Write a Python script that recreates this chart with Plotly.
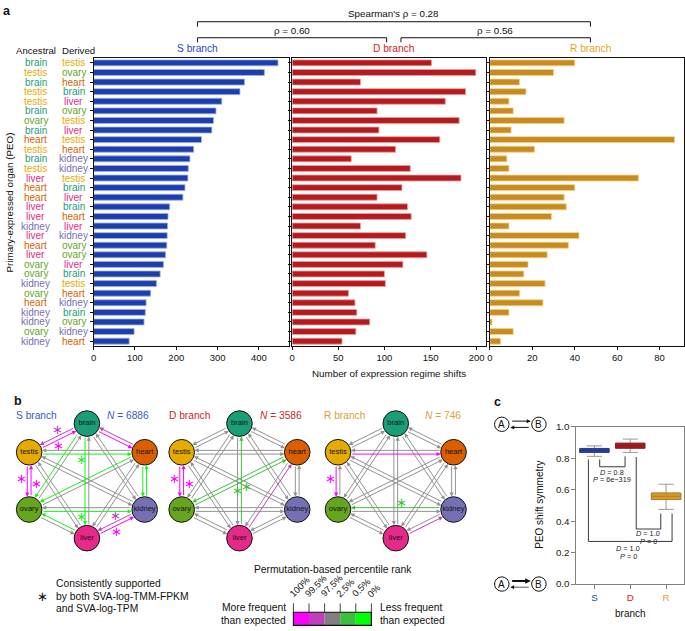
import math
import plotly.graph_objects as go

W, H = 685, 631
FONT = "Liberation Sans, Arial, Helvetica, sans-serif"


def px(x):
    return x / W


def py(y):
    return 1 - y / H


# ---------------- data: panel a ----------------
ancestral = ["brain", "testis", "brain", "testis", "testis", "brain", "ovary", "brain",
             "heart", "testis", "brain", "testis", "liver", "heart", "heart", "liver",
             "liver", "kidney", "liver", "heart", "liver", "ovary", "ovary", "kidney",
             "ovary", "heart", "kidney", "kidney", "ovary", "kidney"]
derived = ["testis", "ovary", "heart", "brain", "liver", "ovary", "testis", "liver",
           "testis", "heart", "kidney", "kidney", "testis", "brain", "liver", "brain",
           "heart", "liver", "kidney", "ovary", "ovary", "liver", "brain", "testis",
           "heart", "kidney", "brain", "ovary", "kidney", "heart"]
s_shifts = [446, 413, 365, 354, 310, 296, 290, 286, 261, 242, 233, 229, 228, 221, 216,
            184, 180, 179, 178, 177, 174, 169, 161, 152, 138, 127, 125, 122, 98, 86]
d_shifts = [151, 199, 74, 188, 166, 92, 181, 94, 160, 112, 64, 128, 183, 119, 92,
            125, 129, 74, 123, 90, 146, 120, 100, 101, 61, 68, 70, 84, 69, 54]
r_shifts = [40, 30, 14, 17, 9, 11, 35, 10, 87, 21, 8, 9, 70, 40, 35,
            36, 29, 9, 42, 37, 27, 18, 16, 26, 14, 25, 9, 1, 11, 5]
s_ticks = [0, 100, 200, 300, 400]
d_ticks = [0, 50, 100, 150, 200]
r_ticks = [0, 20, 40, 60, 80]
spearman_labels = ["Spearman's ρ = 0.28", "ρ = 0.60", "ρ = 0.56"]

organ_colors = {"brain": "#1b9e77", "heart": "#d95f02", "kidney": "#7570b3",
                "liver": "#e7298a", "ovary": "#66a61e", "testis": "#e6ab02"}
organs = ["brain", "heart", "kidney", "liver", "ovary", "testis"]
node_angle = {"brain": 90, "heart": 30, "kidney": -30, "liver": -90, "ovary": -150, "testis": 150}

# ---------------- data: panel b ----------------
branch_names = ["S branch", "D branch", "R branch"]
branch_N = [6886, 3586, 746]
branch_colors = ["#2447c8", "#c41e24", "#dea02c"]
# (ancestral, derived, rank class, consistently supported)
# rank class: 0 grey, 1 >99.5%, 2 97.5-99.5%, 3 0.5-2.5%, 4 <0.5%
s_special = [("testis", "brain", 1, True), ("brain", "testis", 2, True),
             ("brain", "heart", 1, False), ("heart", "brain", 2, False),
             ("testis", "heart", 4, True), ("testis", "ovary", 1, True),
             ("ovary", "testis", 1, True), ("brain", "ovary", 4, False),
             ("heart", "ovary", 4, False), ("brain", "liver", 4, False),
             ("ovary", "kidney", 4, True), ("heart", "kidney", 4, False),
             ("kidney", "heart", 4, False), ("liver", "ovary", 4, False),
             ("liver", "kidney", 1, True), ("kidney", "liver", 2, True)]
d_special = [("testis", "ovary", 1, True), ("ovary", "testis", 1, True),
             ("liver", "brain", 3, True), ("ovary", "heart", 3, True),
             ("heart", "ovary", 3, False), ("liver", "heart", 2, False)]
r_special = [("testis", "heart", 1, False), ("testis", "ovary", 1, True),
             ("kidney", "ovary", 3, True), ("liver", "kidney", 2, False)]
branch_special = [s_special, d_special, r_special]
rank_labels = ["100%", "99.5%", "97.5%", "2.5%", "0.5%", "0%"]
rank_colors = ["#ff00ff", "#bf3fbf", "#808080", "#3cbf3c", "#00ff00"]
edge_colors = ["#939393", "#ff00ff", "#c040c0", "#40c040", "#1cf01c"]

# ---------------- data: panel c ----------------
c_branches = ["S", "D", "R"]
c_colors = ["#2447c8", "#d7191c", "#f0a020"]
c_fill = ["#2a45a0", "#a81e24", "#d49a2a"]
c_edge = ["#1c3488", "#8e1418", "#b07818"]
box_q1 = [0.8375, 0.864, 0.5375]
box_med = [0.850, 0.880, 0.558]
box_q3 = [0.8625, 0.896, 0.579]
box_lo = [0.8125, 0.8375, 0.475]
box_hi = [0.879, 0.922, 0.635]
c_tests = [("0.8", "6e−319"), ("1.0", "0"), ("1.0", "0")]

fig = go.Figure()
annos = []
shapes = []


def txt(x, y, s, size=10, color="#111", xanchor="center", yanchor="middle", angle=0, **kw):
    d = dict(x=px(x), y=py(y), xref="paper", yref="paper", text=s, showarrow=False,
             font=dict(size=size, color=color, family=FONT), xanchor=xanchor,
             yanchor=yanchor, textangle=angle, borderpad=0)
    d.update(kw)
    annos.append(d)


# ---------------- panel a bars ----------------
rows = list(range(1, len(ancestral) + 1))
bar_specs = [(s_shifts, "x", "y", "#1d3fae", "#9fb0e6"),
             (d_shifts, "x2", "y2", "#b41b1e", "#e8a0a0"),
             (r_shifts, "x3", "y3", "#c98b1f", "#f2cf85")]
for vals, xa, ya, fill, edge in bar_specs:
    fig.add_trace(go.Bar(x=vals, y=rows, orientation="h", xaxis=xa, yaxis=ya,
                         marker=dict(color=fill, line=dict(color=edge, width=0.8)),
                         width=0.62, showlegend=False, hoverinfo="skip"))

frame = dict(showline=True, mirror=True, linecolor="#111", linewidth=1, showgrid=False,
             zeroline=False, ticks="outside", ticklen=3, tickcolor="#111", fixedrange=True,
             tickfont=dict(size=9.5, color="#111", family=FONT))
ydom = [py(346), py(53)]
layout_axes = dict(
    xaxis=dict(domain=[px(91), px(287)], range=[0, 472], tickvals=s_ticks, anchor="y", **frame),
    yaxis=dict(domain=ydom, range=[30.5, 0.5], tickvals=rows, showticklabels=False, anchor="x", **frame),
    xaxis2=dict(domain=[px(290.5), px(485)], range=[0, 210], tickvals=d_ticks, anchor="y2", **frame),
    yaxis2=dict(domain=ydom, range=[30.5, 0.5], tickvals=rows, showticklabels=False, anchor="x2", **frame),
    xaxis3=dict(domain=[px(489), px(684)], range=[0, 91.5], tickvals=r_ticks, anchor="y3", **frame),
    yaxis3=dict(domain=ydom, range=[30.5, 0.5], tickvals=rows, showticklabels=False, anchor="x3", **frame),
)

# organ labels
for r, a, d in zip(rows, ancestral, derived):
    for xc, org in ((33, a), (71, d)):
        annos.append(dict(x=px(xc), y=r, xref="paper", yref="y", text=org, showarrow=False,
                          font=dict(size=10, color=organ_colors[org], family=FONT),
                          xanchor="center", yanchor="middle", borderpad=0))
txt(33, 45, "Ancestral", 9.6)
txt(76, 45, "Derived", 9.6)
txt(7, 200, "Primary-expressed organ (PEO)", 9.8, angle=-90)
txt(388, 374, "Number of expression regime shifts", 9.8)
txt(195, 43.5, branch_names[0], 10.2, branch_colors[0])
txt(392, 43.5, branch_names[1], 10.2, "#d42024")
txt(590, 43.5, branch_names[2], 10.2, "#eaa21e")
txt(4, 5, "<b>a</b>", 12.5)


# spearman brackets
def bracket(x0, x1, yline, ydrop):
    for seg in ((x0, yline, x1, yline), (x0, yline, x0, ydrop), (x1, yline, x1, ydrop)):
        shapes.append(dict(type="line", xref="paper", yref="paper", x0=px(seg[0]), y0=py(seg[1]),
                           x1=px(seg[2]), y1=py(seg[3]), line=dict(color="#111", width=1)))


bracket(195.3, 590, 16, 21)
bracket(195.3, 385.3, 32.3, 37)
bracket(399.7, 590, 32.3, 37)
txt(392, 8, spearman_labels[0], 9.8)
txt(290, 25, spearman_labels[1], 9.8)
txt(494, 25, spearman_labels[2], 9.8)

# ---------------- panel b networks ----------------
layout_axes["xaxis5"] = dict(domain=[0, px(490)], range=[0, 490], visible=False, fixedrange=True, anchor="y5")
layout_axes["yaxis5"] = dict(domain=[py(565), py(395)], range=[565, 395], visible=False, fixedrange=True, anchor="x5")
net_cx = [84.3, 237.5, 394.5]
net_cy = 483.3
RX, RY = 67.0, 58.3
NODE_R = 12.8

for bi, cx in enumerate(net_cx):
    pos = {o: (cx + RX * math.cos(math.radians(node_angle[o])),
               net_cy - RY * math.sin(math.radians(node_angle[o]))) for o in organs}
    special = {(a, b): (c, s) for a, b, c, s in branch_special[bi]}
    edges = []
    for a in organs:
        for b in organs:
            if a != b:
                c, s = special.get((a, b), (0, False))
                edges.append((a, b, c, s))
    edges.sort(key=lambda e: e[2] != 0)
    for a, b, c, s in edges:
        (x0, y0), (x1, y1) = pos[a], pos[b]
        L = math.hypot(x1 - x0, y1 - y0)
        ux, uy = (x1 - x0) / L, (y1 - y0) / L
        nx, ny = -uy, ux
        off = 1.9
        annos.append(dict(x=x1 + nx * off, y=y1 + ny * off, ax=x0 + nx * off, ay=y0 + ny * off,
                          xref="x5", yref="y5", axref="x5", ayref="y5", text="", showarrow=True,
                          arrowhead=2, arrowsize=0.85, arrowwidth=1, arrowcolor=edge_colors[c],
                          standoff=NODE_R, startstandoff=NODE_R))
        if s:
            mx, my = x0 + (x1 - x0) * 0.45, y0 + (y1 - y0) * 0.45
            annos.append(dict(x=mx + nx * 7.5, y=my + ny * 7.5, xref="x5", yref="y5", text="∗",
                              showarrow=False, font=dict(size=13, color=edge_colors[c], family=FONT),
                              xanchor="center", yanchor="middle", borderpad=0))
    fig.add_trace(go.Scatter(x=[pos[o][0] for o in organs], y=[pos[o][1] for o in organs],
                             xaxis="x5", yaxis="y5", mode="markers+text", text=organs,
                             textfont=dict(size=7.6, color="#111", family=FONT),
                             marker=dict(size=2 * NODE_R, color=[organ_colors[o] for o in organs],
                                         line=dict(color="#111", width=1)),
                             showlegend=False, hoverinfo="skip"))

txt(15, 402, "<b>b</b>", 12.5)
txt(12, 417, branch_names[0], 10.2, "#3a58cc", xanchor="left")
txt(103, 417, f"<i>N</i> = {branch_N[0]}", 10.2, "#3a58cc", xanchor="left")
txt(166, 417, branch_names[1], 10.2, "#c4282c", xanchor="left")
txt(257, 417, f"<i>N</i> = {branch_N[1]}", 10.2, "#c4282c", xanchor="left")
txt(321, 417, branch_names[2], 10.2, "#d9a234", xanchor="left")
txt(423, 417, f"<i>N</i> = {branch_N[2]}", 10.2, "#d9a234", xanchor="left")

# legend
txt(52, 587.5, "Consistently supported", 10.3, xanchor="left")
txt(52, 600.5, "by both SVA-log-TMM-FPKM", 10.3, xanchor="left")
txt(52, 613, "and SVA-log-TPM", 10.3, xanchor="left")
txt(40, 601, "∗", 13)
txt(331, 574, "Permutation-based percentile rank", 10.3)
txt(285, 612, "More frequent", 10.3, xanchor="right")
txt(285, 625, "than expected", 10.3, xanchor="right")
txt(377.5, 612, "Less frequent", 10.3, xanchor="left")
txt(377.5, 625, "than expected", 10.3, xanchor="left")
bx0, bx1, by0, by1 = 291.7, 370, 617, 630.3
seg = (bx1 - bx0) / len(rank_colors)
for i, col in enumerate(rank_colors):
    shapes.append(dict(type="rect", xref="paper", yref="paper", x0=px(bx0 + i * seg), x1=px(bx0 + (i + 1) * seg),
                       y0=py(by1), y1=py(by0), fillcolor=col, line=dict(width=0)))
shapes.append(dict(type="rect", xref="paper", yref="paper", x0=px(bx0), x1=px(bx1), y0=py(by1), y1=py(by0),
                   line=dict(color="#111", width=1.2)))
for i, lab in enumerate(rank_labels):
    tx = bx0 + i * seg
    shapes.append(dict(type="line", xref="paper", yref="paper", x0=px(tx), x1=px(tx), y0=py(by0), y1=py(608),
                       line=dict(color="#111", width=0.8)))
    txt(tx - 7, 605, lab, 9.3, xanchor="left", yanchor="bottom", angle=-45)

# ---------------- panel c ----------------
for i in range(3):
    # whiskers (grey)
    fig.add_trace(go.Box(x=[i + 1], q1=[box_q1[i]], median=[box_med[i]], q3=[box_q3[i]],
                         lowerfence=[box_lo[i]], upperfence=[box_hi[i]], xaxis="x4", yaxis="y4",
                         fillcolor=c_fill[i], line=dict(color="#8c8c8c", width=0.9), width=0.82,
                         whiskerwidth=0.52, boxpoints=False, showlegend=False, hoverinfo="skip"))
    # solid box body on top
    fig.add_trace(go.Box(x=[i + 1], q1=[box_q1[i]], median=[box_med[i]], q3=[box_q3[i]],
                         lowerfence=[box_q1[i]], upperfence=[box_q3[i]], xaxis="x4", yaxis="y4",
                         fillcolor=c_fill[i], line=dict(color=c_edge[i], width=0.8), width=0.82,
                         whiskerwidth=0, boxpoints=False, showlegend=False, hoverinfo="skip"))
fig.update_layout(boxmode="overlay")
cframe = dict(showline=True, mirror=True, linecolor="#808080", linewidth=1, showgrid=False,
              zeroline=False, ticks="outside", ticklen=4, tickcolor="#808080", fixedrange=True,
              tickfont=dict(size=9.8, color="#222", family=FONT))
layout_axes["xaxis4"] = dict(domain=[px(576), px(684)], range=[0.5, 3.5], tickvals=[1, 2, 3],
                             ticktext=[f"<span style='color:{c}'>{b}</span>" for b, c in zip(c_branches, c_colors)],
                             anchor="y4", **cframe)
layout_axes["yaxis4"] = dict(domain=[py(588.3), py(428.3)], range=[0, 1],
                             tickvals=[0, 0.2, 0.4, 0.6, 0.8, 1.0], tickformat=".1f", anchor="x4", **cframe)
# comparison brackets (left x, right x, left top, right top, bottom, label x, label y1, label y2)
c_brackets = [(1.148, 1.855, box_lo[0] - 0.02, box_lo[1] - 0.025, 0.746, 1.50, 0.7125, 0.6625),
              (2.167, 2.852, box_lo[1] - 0.03, box_lo[2] - 0.027, 0.35, 2.5, 0.323, 0.273),
              (0.833, 3.167, box_lo[0] - 0.02, box_lo[2] - 0.027, 0.271, 1.94, 0.225, 0.177)]
for (xl, xr, ylt, yrt, yb, tx, ty1, ty2), (dv, pv) in zip(c_brackets, c_tests):
    fig.add_trace(go.Scatter(x=[xl, xl, xr, xr], y=[ylt, yb, yb, yrt], xaxis="x4", yaxis="y4",
                             mode="lines", line=dict(color="#222", width=0.9),
                             showlegend=False, hoverinfo="skip"))
    for yy, s in ((ty1, f"<i>D</i> = {dv}"), (ty2, f"<i>P</i> = {pv}")):
        annos.append(dict(x=tx, y=yy, xref="x4", yref="y4", text=s, showarrow=False, borderpad=0,
                          font=dict(size=7.3, color="#222", family=FONT)))
txt(497, 403, "<b>c</b>", 12.5)
txt(539, 508, "PEO shift symmetry", 10, angle=-90)
txt(630, 618, "branch", 10)

# A <-> B symbols
for yc, w_top, w_bot in ((425.7, 1.0, 1.0), (588.3, 2.0, 0.7)):
    for xc, lab in ((501, "A"), (538.3, "B")):
        shapes.append(dict(type="circle", xref="paper", yref="paper", x0=px(xc - 7.3), x1=px(xc + 7.3),
                           y0=py(yc + 7.3), y1=py(yc - 7.3), line=dict(color="#111", width=1)))
        txt(xc, yc, lab, 10)
    annos.append(dict(x=px(530), y=py(yc - 3.2), xref="paper", yref="paper", ax=-20, ay=0, text="",
                      showarrow=True, arrowhead=2, arrowsize=0.8 if w_top < 1.5 else 0.55,
                      arrowwidth=w_top, arrowcolor="#111"))
    annos.append(dict(x=px(509.5), y=py(yc + 3.2), xref="paper", yref="paper", ax=20, ay=0, text="",
                      showarrow=True, arrowhead=2, arrowsize=0.8 if w_bot > 0.9 else 1.1,
                      arrowwidth=w_bot, arrowcolor="#111"))

fig.update_layout(width=W, height=H, margin=dict(l=0, r=0, t=0, b=0), paper_bgcolor="white",
                  plot_bgcolor="white", font=dict(family=FONT, color="#111"), bargap=0.38,
                  annotations=annos, shapes=shapes, **layout_axes)
fig.write_html("out.html", config={"displayModeBar": False},
               post_script="document.body.style.margin='0';document.body.style.overflow='hidden';")
